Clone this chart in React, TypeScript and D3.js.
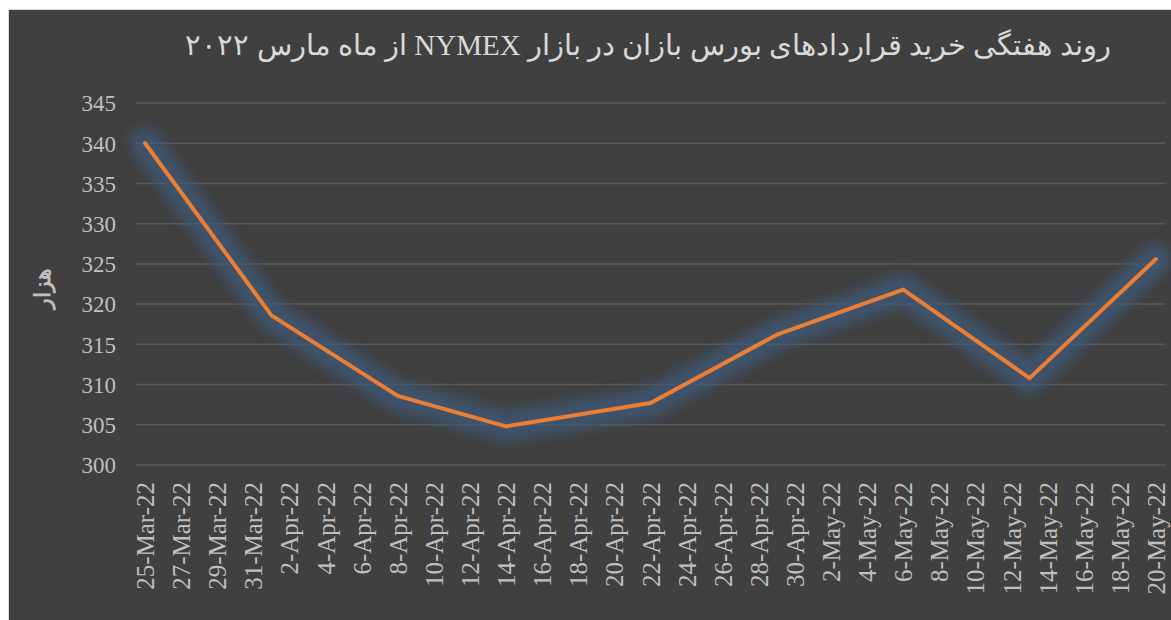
import React, { useEffect, useRef } from 'react';
import * as d3 from 'd3';

// weekly report dates and long positions (thousand contracts)
const reportDates = ['2022-03-25', '2022-04-01', '2022-04-08', '2022-04-14', '2022-04-22', '2022-04-29', '2022-05-06', '2022-05-13', '2022-05-20'];
const longPositions = [340.0, 318.6, 308.6, 304.8, 307.7, 316.2, 321.8, 310.8, 325.6];
const yTicks = [300, 305, 310, 315, 320, 325, 330, 335, 340, 345];
const firstTick = '2022-03-25';
const lastTick = '2022-05-20';

const title = 'روند هفتگی خرید قراردادهای بورس بازان در بازار NYMEX از ماه مارس ۲۰۲۲';
const yTitle = 'هزار';

const App = () => {
    const svgRef = useRef<SVGSVGElement>(null);

    useEffect(() => {
        const width = 1171;
        const height = 620;
        const plotLeft = 136;
        const plotRight = 1165;
        const plotTop = 103;
        const plotBottom = 465;
        const textColor = '#bfbfbf';
        const font = '"Liberation Serif", "Times New Roman", serif';

        const parse = d3.utcParse('%Y-%m-%d');
        const data = reportDates.map((d, i) => ({ date: parse(d)!, value: longPositions[i] }));
        const start = parse(firstTick)!;
        const end = parse(lastTick)!;

        // excel date axis: half a day of padding each side
        const x = d3.scaleUtc()
            .domain([d3.utcHour.offset(start, -12), d3.utcHour.offset(end, 12)])
            .range([plotLeft, plotRight]);

        const y = d3.scaleLinear()
            .domain([300, 345])
            .range([plotBottom, plotTop]);

        const svg = d3.select(svgRef.current)
            .attr('width', width)
            .attr('height', height)
            .attr('viewBox', [0, 0, width, height])
            .style('display', 'block');

        svg.selectAll('*').remove();

        svg.append('rect')
            .attr('width', width)
            .attr('height', height)
            .attr('fill', '#ffffff');

        svg.append('rect')
            .attr('x', 8.5)
            .attr('y', 9.5)
            .attr('width', width - 8)
            .attr('height', height - 9)
            .attr('fill', '#404040')
            .attr('stroke', '#d9d9d9')
            .attr('stroke-width', 1);

        const defs = svg.append('defs');
        defs.append('filter')
            .attr('id', 'glow')
            .attr('x', '-20%').attr('y', '-30%')
            .attr('width', '140%').attr('height', '160%')
            .append('feGaussianBlur')
            .attr('stdDeviation', 6);

        // title
        svg.append('text')
            .attr('x', 648)
            .attr('y', 55)
            .attr('text-anchor', 'middle')
            .attr('direction', 'rtl')
            .attr('fill', '#d9d9d9')
            .style('font-family', font)
            .style('font-size', '29px')
            .text(title);

        // gridlines
        svg.append('g')
            .selectAll('line')
            .data(yTicks)
            .join('line')
            .attr('x1', plotLeft)
            .attr('x2', plotRight)
            .attr('y1', d => y(d))
            .attr('y2', d => y(d))
            .attr('stroke', '#595959')
            .attr('stroke-width', 1.5);

        // y axis
        svg.append('g')
            .attr('transform', `translate(${plotLeft - 20},0)`)
            .call(d3.axisLeft(y).tickValues(yTicks).tickSize(0).tickPadding(0))
            .call(g => g.select('.domain').remove())
            .call(g => g.selectAll('text')
                .attr('fill', textColor)
                .attr('dy', '0.34em')
                .style('font-family', font)
                .style('font-size', '23px'));

        // x axis
        svg.append('g')
            .attr('transform', `translate(0,${plotBottom})`)
            .call(d3.axisBottom(x)
                .tickValues(d3.utcDay.range(start, d3.utcDay.offset(end, 1), 2))
                .tickFormat(d3.utcFormat('%-d-%b-%y') as any)
                .tickSize(0))
            .call(g => g.select('.domain').remove())
            .call(g => g.selectAll('text')
                .attr('fill', textColor)
                .attr('transform', 'rotate(-90)')
                .attr('text-anchor', 'end')
                .attr('x', -17)
                .attr('y', 0)
                .attr('dy', '0.34em')
                .style('font-family', font)
                .style('font-size', '25px'));

        // y axis title
        svg.append('text')
            .attr('transform', 'translate(42,288) rotate(-90)')
            .attr('text-anchor', 'middle')
            .attr('dy', '0.35em')
            .attr('fill', textColor)
            .style('font-family', font)
            .style('font-size', '22px')
            .style('font-weight', 'bold')
            .text(yTitle);

        const line = d3.line<{ date: Date; value: number }>()
            .x(d => x(d.date))
            .y(d => y(d.value));

        // soft blue-grey glow under the series
        svg.append('path')
            .datum(data)
            .attr('d', line)
            .attr('fill', 'none')
            .attr('stroke', '#3d5a7a')
            .attr('stroke-width', 30)
            .attr('stroke-linejoin', 'round')
            .attr('stroke-linecap', 'round')
            .attr('opacity', 0.75)
            .attr('filter', 'url(#glow)');

        svg.append('path')
            .datum(data)
            .attr('d', line)
            .attr('fill', 'none')
            .attr('stroke', '#ed7d31')
            .attr('stroke-width', 4)
            .attr('stroke-linejoin', 'round')
            .attr('stroke-linecap', 'round');
    }, []);

    return (
        <>
            <style>{'body{margin:0;overflow:hidden}'}</style>
            <svg ref={svgRef}></svg>
        </>
    );
};

export default App;
